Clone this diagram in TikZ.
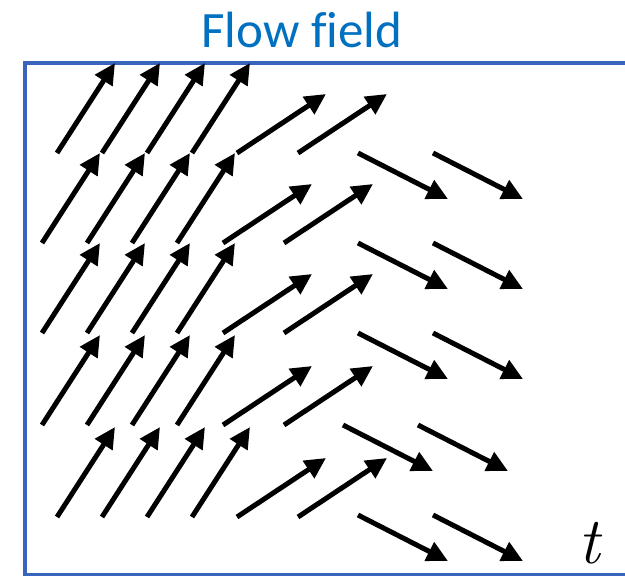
\documentclass[tikz,border=0pt]{standalone}
\usepackage{fontspec}
\setmainfont{Carlito}[Ligatures=NoCommon]
\newfontfamily\lmfont{Latin Modern Roman}
\usetikzlibrary{arrows.meta}
\definecolor{framecol}{RGB}{56,100,190}
\definecolor{titlecol}{RGB}{0,112,192}
\tikzset{
  vec/.style={line width=5pt, -{Triangle[length=21pt,width=20pt]}},
  frame/.style={draw=framecol, line width=4pt},
}
\begin{document}
\begin{tikzpicture}[x=1pt,y=-1pt]
\useasboundingbox (0,0) rectangle (625,576);
\begin{scope}
\clip (0,0) rectangle (625,576);
\draw[frame] (25,63) rectangle (660,575);
\end{scope}
\node[anchor=base, text=titlecol, font=\fontsize{51}{51}\selectfont, inner sep=0pt] (title) at (302,47) {Flow field};
\node[anchor=base, inner sep=0pt, font=\lmfont\itshape\fontsize{66}{66}\selectfont] (tlabel) at (589,563) {t};
% steep arrows
\foreach \y/\dx in {153/15,243/0,333/0,425/0,517/15}{
  \foreach \x in {42,87,132,177}{
    \draw[vec] (\x+\dx,\y) -- ++(58,-90);
  }
}
% shallow arrows
\foreach \y/\dx in {153/14,243/0,333/0,425/0,517/14}{
  \foreach \x in {223,284}{
    \draw[vec] (\x+\dx,\y) -- ++(89,-59);
  }
}
% descending arrows
\foreach \y/\dx in {153/0,243/0,333/0,425/-15,515/0}{
  \foreach \x in {358,433}{
    \draw[vec] (\x+\dx,\y) -- ++(90,46);
  }
}
\end{tikzpicture}
\end{document}
